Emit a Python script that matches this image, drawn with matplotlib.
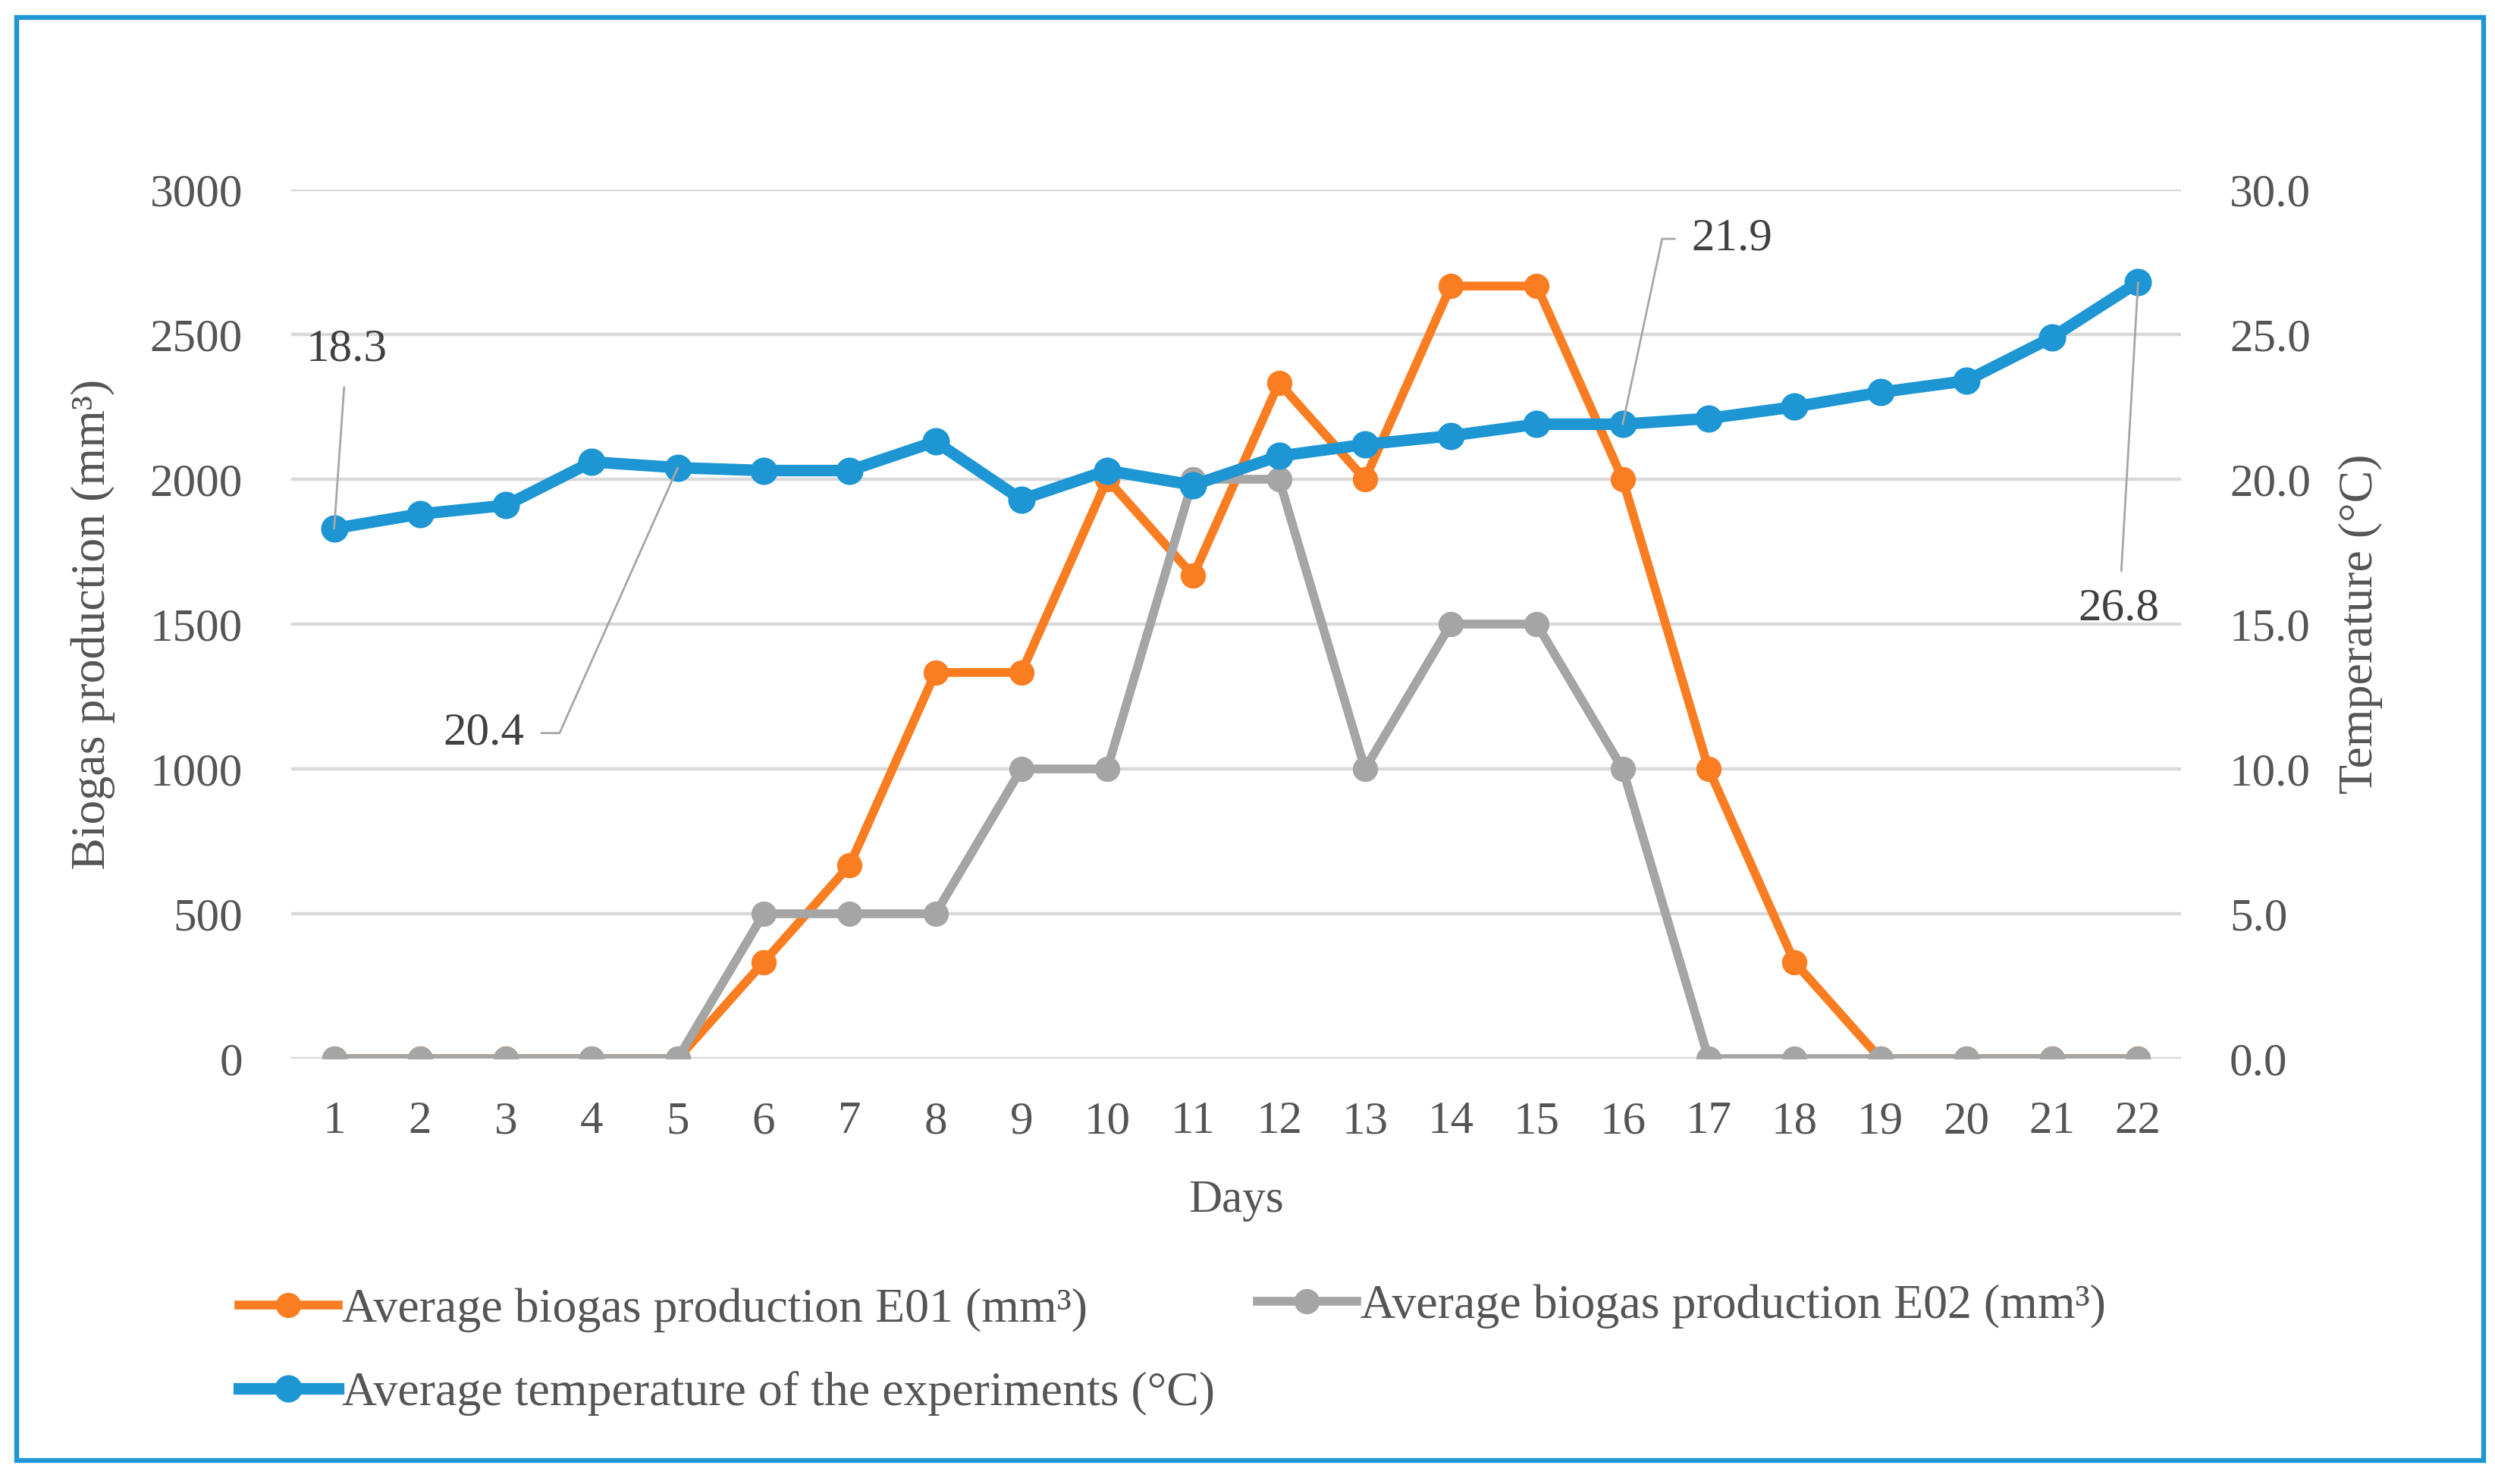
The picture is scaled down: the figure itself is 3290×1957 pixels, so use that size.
import matplotlib
matplotlib.use("Agg")
import matplotlib.pyplot as plt
from matplotlib.patches import Rectangle

days = list(range(1, 23))
e01 = [0, 0, 0, 0, 0, 333, 667, 1333, 1333, 2000, 1667, 2333, 2000, 2667, 2667,
       2000, 1000, 333, 0, 0, 0, 0]
e02 = [0, 0, 0, 0, 0, 500, 500, 500, 1000, 1000, 2000, 2000, 1000, 1500, 1500,
       1000, 0, 0, 0, 0, 0, 0]
temp = [18.3, 18.8, 19.1, 20.6, 20.4, 20.3, 20.3, 21.3, 19.3, 20.3, 19.8, 20.8,
        21.2, 21.5, 21.9, 21.9, 22.1, 22.5, 23.0, 23.4, 24.9, 26.8]

left_ticks = [0, 500, 1000, 1500, 2000, 2500, 3000]
right_ticks = [0, 5, 10, 15, 20, 25, 30]

# labelled temperature points: (day, label offset in points)
labelled = {1: (6, 85), 5: (-92, -126), 16: (52, 88), 22: (-9, -155)}

orange = "#FA7D22"
grey = "#A5A5A5"
blue = "#1D96D3"
txt = "#555555"

plt.rcParams["font.family"] = ["Liberation Serif", "DejaVu Serif"]
plt.rcParams["font.size"] = 22

W, H = 3291, 1957
fig = plt.figure(figsize=(W / 200, H / 200), dpi=200)
ax = fig.add_axes([384 / W, 1 - 1396 / H, (2876 - 384) / W, (1396 - 250) / H])
ax2 = ax.twinx()

fig.patches.append(Rectangle((22 / W, 1 - 1926 / H), (3275 - 22) / W, (1926 - 23) / H,
                             transform=fig.transFigure, fill=False,
                             edgecolor=blue, linewidth=2.3))

l1, = ax.plot(days, e01, color=orange, lw=4.2, marker="o", ms=11,
              label="Average biogas production E01 (mm³)")
l2, = ax.plot(days, e02, color=grey, lw=4.2, marker="o", ms=11,
              label="Average biogas production E02 (mm³)")
l3, = ax2.plot(days, temp, color=blue, lw=5.5, marker="o", ms=12,
               label="Average temperature of the experiments (°C)")

ax.set_xlim(0.5, 22.5)
ax.set_ylim(0, 3000)
ax2.set_ylim(0, 30)
ax.set_xticks(days)
ax.set_yticks(left_ticks)
ax2.set_yticks(right_ticks)
ax2.set_yticklabels([f"{v:.1f}" for v in right_ticks])

ax.grid(axis="y", color="#D9D9D9", lw=1.6)
ax.set_axisbelow(True)
for a in (ax, ax2):
    for s in a.spines.values():
        s.set_visible(False)
ax.tick_params(axis="y", length=0, pad=23, labelcolor=txt)
ax.tick_params(axis="x", length=0, pad=20, labelcolor=txt)
ax2.tick_params(axis="y", length=0, pad=23, labelcolor=txt)

ax.set_xlabel("Days", color=txt, va="center")
ax.xaxis.set_label_coords(0.5, -0.163)
ax.set_ylabel("Biogas production (mm³)", color=txt, va="center", fontsize=23)
ax.yaxis.set_label_coords(-0.105, 0.5)
ax2.set_ylabel("Temperature (°C)", color=txt, va="center", rotation=90, fontsize=23)
ax2.yaxis.set_label_coords(1.095, 0.5)

for d, (dx, dy) in labelled.items():
    t = temp[d - 1]
    if d in (5, 16):
        ang = 66 if d == 5 else 78
        cs = f"angle,angleA=0,angleB={ang},rad=0"
    else:
        cs = "arc3,rad=0"
    ax2.annotate(f"{t:.1f}", xy=(d, t), xytext=(dx, dy), textcoords="offset points",
                 ha="center", va="center", color="#404040", fontsize=22,
                 arrowprops=dict(arrowstyle="-", color="#A6A6A6", lw=1.0,
                                 shrinkA=6, shrinkB=0, connectionstyle=cs))

leg_kw = dict(frameon=False, fontsize=23, handlelength=2.05, handletextpad=0.08,
              borderpad=0, borderaxespad=0, labelcolor=txt, labelspacing=0.8)
fig.legend(handles=[l1, l3], loc="center left",
           bbox_to_anchor=(315 / W, 1 - 1783 / H), **leg_kw)
fig.legend(handles=[l2], loc="center left",
           bbox_to_anchor=(1658 / W, 1 - 1723 / H), **leg_kw)

fig.savefig("out.png", dpi=200, facecolor="white")
